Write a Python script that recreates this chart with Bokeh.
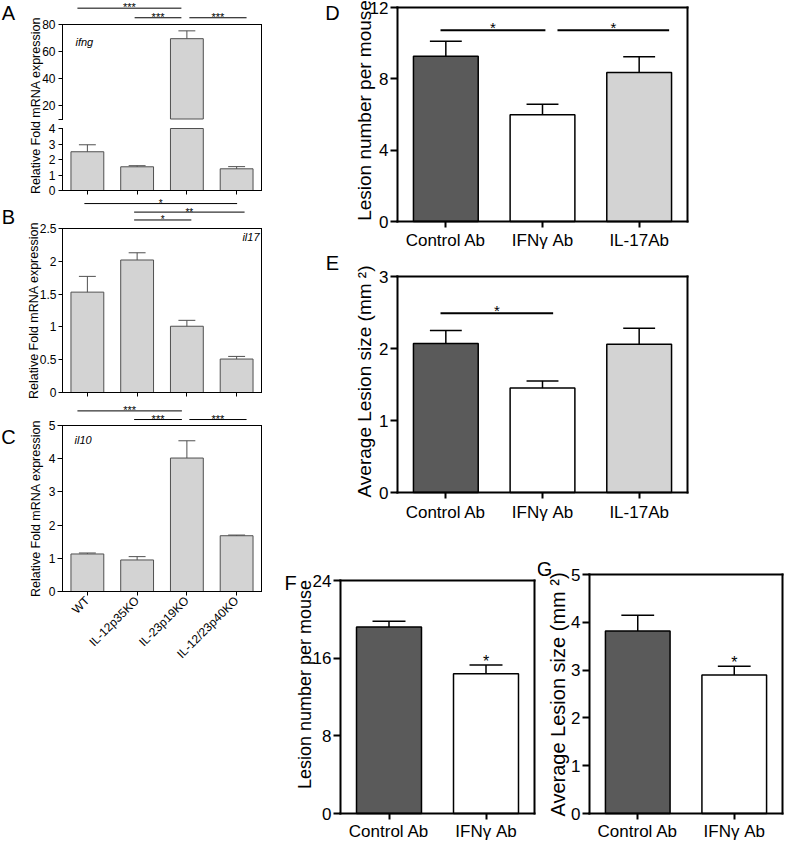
import numpy as np
from bokeh.plotting import figure
from bokeh.models import Range1d, LinearAxis, FixedTicker
from bokeh.layouts import column, row
from bokeh.embed import file_html
from bokeh.resources import INLINE
from bokeh.core.properties import value

FONT = "Liberation Sans"

# ---------------- data ----------------
genotypes = ["WT", "IL-12p35KO", "IL-23p19KO", "IL-12/23p40KO"]
ifng_mean = [2.50, 1.53, 69.5, 1.40]
ifng_sem = [0.45, 0.07, 5.8, 0.14]
il17_mean = [1.53, 2.02, 1.01, 0.51]
il17_sem = [0.24, 0.11, 0.09, 0.04]
il10_mean = [1.13, 0.95, 4.02, 1.68]
il10_sem = [0.03, 0.10, 0.52, 0.02]

treat3 = ["Control Ab", "IFNγ Ab", "IL-17Ab"]
lesion_num3 = [9.27, 5.98, 8.36]
lesion_num3_sem = [0.84, 0.60, 0.88]
lesion_size3 = [2.07, 1.45, 2.06]
lesion_size3_sem = [0.18, 0.10, 0.22]

treat2 = ["Control Ab", "IFNγ Ab"]
lesion_num2 = [19.2, 14.4]
lesion_num2_sem = [0.6, 0.9]
lesion_size2 = [3.82, 2.90]
lesion_size2_sem = [0.33, 0.18]

# significance brackets (x from, x to, height, label)
ifng_sig_x0 = [0.30, 1.45, 2.55]
ifng_sig_x1 = [2.39, 2.39, 3.70]
ifng_sig_y = [92.1, 85.0, 85.0]
ifng_sig_txt = ["***", "***", "***"]

il17_sig_x0 = [0.44, 1.44, 1.44]
il17_sig_x1 = [3.51, 3.66, 2.59]
il17_sig_y = [2.88, 2.75, 2.63]
il17_sig_txt = ["*", "**", "*"]

il10_sig_x0 = [0.30, 1.44, 2.55]
il10_sig_x1 = [2.40, 2.40, 3.70]
il10_sig_y = [5.44, 5.18, 5.18]
il10_sig_txt = ["***", "***", "***"]

num3_sig_x0 = [0.445, 1.655]
num3_sig_x1 = [1.53, 2.81]
num3_sig_y = [10.73, 10.73]
num3_sig_txt = ["*", "*"]

size3_sig_x0 = [0.445]
size3_sig_x1 = [1.61]
size3_sig_y = [2.49]
size3_sig_txt = ["*"]

YLAB_ABC = "Relative Fold mRNA expression"
YLAB_NUM = "Lesion number per mouse"
YLAB_SIZE = "Average Lesion size (mm \u00b2)"

GRAY = "#d3d3d3"
EDGE = "#505050"
BAR_COLORS = ["#5a5a5a", "#ffffff", "#d3d3d3"]


# ---------------- helpers ----------------
class Panel:
    """A figure whose frame fills the whole canvas; the boxed plot area sits inside it."""

    def __init__(self, w, h, fl, fr, fb, ppy, n):
        self.fl, self.fb = fl, fb
        self.ppx = (fr - fl) / float(n)
        self.ppy = ppy
        self.n = n
        xr = Range1d(-fl / self.ppx, n + (w - fr) / self.ppx)
        yr = Range1d(-(h - fb) / ppy, fb / ppy)
        p = figure(width=w, height=h, x_range=xr, y_range=yr,
                   x_axis_type=None, y_axis_type=None,
                   toolbar_location=None, output_backend="svg",
                   min_border=0, min_border_left=0, min_border_right=0,
                   min_border_top=0, min_border_bottom=0)
        p.outline_line_color = None
        p.background_fill_color = "white"
        p.border_fill_color = "white"
        self.p = p

    def dx(self, px):
        return (px - self.fl) / self.ppx

    def dy(self, py):
        return (self.fb - py) / self.ppy

    def text(self, px, py, t, fs, align="center", baseline="middle", angle=0.0,
             style="normal"):
        self.p.text(x=[self.dx(px)], y=[self.dy(py)], text=[t], angle=angle,
                    text_font=value(FONT), text_font_size=value(f"{fs}px"),
                    text_font_style=style, text_align=align,
                    text_baseline=baseline, text_color="black")


def add_axis(P, side, fixed, bounds, ticks, fs=12, tick_out=0, standoff=2, lw=1,
             labels=None, hide_labels=False, range_name=None, orientation=None):
    kw = {}
    if range_name is not None:
        kw["y_range_name"] = range_name
    ax = LinearAxis(fixed_location=fixed, bounds=bounds,
                    ticker=FixedTicker(ticks=[float(t) for t in ticks]), **kw)
    ax.major_label_text_font = FONT
    ax.major_label_text_font_size = f"{fs}px"
    ax.major_label_text_color = "black"
    ax.major_label_standoff = standoff
    ax.major_tick_out = tick_out
    ax.major_tick_in = 0
    ax.minor_tick_line_color = None
    ax.axis_line_width = lw
    ax.major_tick_line_width = lw
    ax.axis_line_color = "black"
    ax.major_tick_line_color = "black"
    ax.axis_line_cap = "square"
    if labels is not None:
        ax.major_label_overrides = {float(t): s for t, s in zip(ticks, labels)}
    if hide_labels:
        ax.major_label_overrides = {float(t): "" for t in ticks}
        ax.major_label_text_color = None
    if orientation is not None:
        ax.major_label_orientation = orientation
    P.p.add_layout(ax, side)
    return ax


def errbars(p, x, mean, sem, cap, color, lw, **kw):
    x = np.asarray(x, dtype=float)
    mean = np.asarray(mean, dtype=float)
    hi = mean + np.asarray(sem, dtype=float)
    p.segment(x0=x, y0=mean, x1=x, y1=hi, line_color=color, line_width=lw, **kw)
    p.segment(x0=x - cap / 2, y0=hi, x1=x + cap / 2, y1=hi,
              line_color=color, line_width=lw, **kw)


def sig(p, x0, x1, y, txt, fs, lw, yoff, **kw):
    x0 = np.asarray(x0, dtype=float)
    x1 = np.asarray(x1, dtype=float)
    p.segment(x0=x0, y0=y, x1=x1, y1=y, line_color="black", line_width=lw, **kw)
    p.text(x=(x0 + x1) / 2, y=y, text=txt, text_font=value(FONT),
           text_font_size=value(f"{fs}px"), text_align="center",
           text_baseline="middle", y_offset=yoff, text_color="black", **kw)


def box_axes(P, n, ymax, yticks, fs, tick_out, lw, xlabels=None, orientation=None,
             xfs=None, xstandoff=3):
    xc = np.arange(n) + 0.5
    if xlabels is None:
        add_axis(P, "below", 0, (0, n), xc, fs=fs, tick_out=tick_out, lw=lw, hide_labels=True)
    else:
        add_axis(P, "below", 0, (0, n), xc, fs=xfs or fs, tick_out=tick_out - 1,
                 standoff=xstandoff, lw=lw, labels=xlabels, orientation=orientation)
    add_axis(P, "left", 0, (0, ymax), yticks, fs=fs, tick_out=tick_out, standoff=2, lw=lw)
    add_axis(P, "right", n, (0, ymax), [], lw=lw)
    add_axis(P, "above", ymax, (0, n), [], lw=lw)


# ---------------- left column ----------------
LW = 282
xc4 = np.arange(4) + 0.5
BW_L = 0.66
CAP_L = 0.34
T_ABC = 12.5

# ---------- Panel A (broken axis) ----------
A_LOW_MAX, A_UP_MIN, A_UP_MAX = 4, 10, 80
A_H, A_FB, A_TOP = 197, 190, 24
A_UP_PPU = 1.35
PA = Panel(LW, A_H, 62, 261, A_FB, 15.5, 4)
pA = PA.p
pA.extra_y_ranges = {"upper": Range1d(A_UP_MAX - (A_H - A_TOP) / A_UP_PPU,
                                      A_UP_MAX + A_TOP / A_UP_PPU)}
up_at_bottom = A_UP_MAX - (A_FB - A_TOP) / A_UP_PPU
mA = np.array(ifng_mean)
sA_ = np.array(ifng_sem)
big = mA > A_UP_MIN
pA.vbar(x=xc4, top=np.minimum(mA, A_LOW_MAX), bottom=0, width=BW_L,
        fill_color=GRAY, line_color=EDGE, line_width=1)
pA.vbar(x=xc4[big], top=mA[big], bottom=A_UP_MIN, width=BW_L,
        fill_color=GRAY, line_color=EDGE, line_width=1, y_range_name="upper")
errbars(pA, xc4[~big], mA[~big], sA_[~big], CAP_L, EDGE, 1)
errbars(pA, xc4[big], mA[big], sA_[big], CAP_L, EDGE, 1, y_range_name="upper")
add_axis(PA, "below", 0, (0, 4), xc4, tick_out=4, hide_labels=True)
add_axis(PA, "left", 0, (0, A_LOW_MAX), [0, 1, 2, 3, 4], fs=12, tick_out=4, standoff=3)
add_axis(PA, "left", 0, (A_UP_MIN, A_UP_MAX), [10, 20, 40, 60, 80], fs=12, tick_out=4,
         standoff=3, labels=["", "20", "40", "60", "80"], range_name="upper")
add_axis(PA, "right", 4, (up_at_bottom, A_UP_MAX), [], range_name="upper")
add_axis(PA, "above", A_UP_MAX, (0, 4), [], range_name="upper")
sig(pA, ifng_sig_x0, ifng_sig_x1, ifng_sig_y, ifng_sig_txt, 11, 1, -1, y_range_name="upper")
PA.text(35, 105, YLAB_ABC, T_ABC, angle=np.pi / 2)
PA.text(75, 41, "ifng", 11, align="left", style="italic")
PA.text(8, 12, "A", 20)

# ---------- Panel B ----------
PB = Panel(LW, 204, 62, 261, 195, 164 / 2.5, 4)
pB = PB.p
pB.vbar(x=xc4, top=il17_mean, bottom=0, width=BW_L, fill_color=GRAY, line_color=EDGE, line_width=1)
errbars(pB, xc4, il17_mean, il17_sem, CAP_L, EDGE, 1)
box_axes(PB, 4, 2.5, [0, 0.5, 1.0, 1.5, 2.0, 2.5], 12, 4, 1)
sig(pB, il17_sig_x0, il17_sig_x1, il17_sig_y, il17_sig_txt, 10, 1, 0)
PB.text(33, 113, YLAB_ABC, T_ABC, angle=np.pi / 2)
PB.text(259, 39, "il17", 11, align="right", style="italic")
PB.text(8, 19, "B", 20)

# ---------- Panel C ----------
PC = Panel(LW, 271, 62, 261, 190, 166 / 5.0, 4)
pC = PC.p
pC.vbar(x=xc4, top=il10_mean, bottom=0, width=BW_L, fill_color=GRAY, line_color=EDGE, line_width=1)
errbars(pC, xc4, il10_mean, il10_sem, CAP_L, EDGE, 1)
box_axes(PC, 4, 5, [0, 1, 2, 3, 4, 5], 12, 5, 1, xlabels=genotypes, orientation=np.pi / 4)
sig(pC, il10_sig_x0, il10_sig_x1, il10_sig_y, il10_sig_txt, 11, 1, -1)
PC.text(35, 107, YLAB_ABC, T_ABC, angle=np.pi / 2)
PC.text(74, 38, "il10", 11, align="left", style="italic")
PC.text(8, 35, "C", 20)


# ---------------- right column ----------------
def build_treat(w, h, fl, fr, ft, fb, cats, mean, sem, ymax, yticks, cap=0.33, xstandoff=3):
    n = len(cats)
    P = Panel(w, h, fl, fr, fb, (fb - ft) / float(ymax), n)
    xc = np.arange(n) + 0.5
    P.p.vbar(x=xc, top=mean, bottom=0, width=0.67, fill_color=BAR_COLORS[:n],
             line_color="black", line_width=1.5)
    errbars(P.p, xc, mean, sem, cap, "black", 1.5)
    box_axes(P, n, ymax, yticks, 17, 7, 2, xlabels=cats, xfs=17, xstandoff=xstandoff)
    return P


RW = 502
PD = build_treat(RW, 250, 115, 405, 7, 221, treat3, lesion_num3, lesion_num3_sem, 12,
                 [0, 4, 8, 12], xstandoff=3)
sig(PD.p, num3_sig_x0, num3_sig_x1, num3_sig_y, num3_sig_txt, 15, 2, -3)
PD.text(82, 110, YLAB_NUM, 19, angle=np.pi / 2)
PD.text(50, 12, "D", 20)

PE = build_treat(RW, 272, 115, 405, 26, 242, treat3, lesion_size3, lesion_size3_sem, 3,
                 [0, 1, 2, 3], xstandoff=4)
sig(PE.p, size3_sig_x0, size3_sig_x1, size3_sig_y, size3_sig_txt, 15, 2, -3)
PE.text(82, 131, YLAB_SIZE, 19, angle=np.pi / 2)
PE.text(50, 12, "E", 20)

PF = build_treat(255, 320, 58, 252, 58, 291, treat2, lesion_num2, lesion_num2_sem, 24,
                 [0, 8, 16, 24], cap=0.34, xstandoff=2)
hiF = np.array(lesion_num2) + np.array(lesion_num2_sem)
PF.p.text(x=[1.5], y=[hiF[1]], text=["*"], text_font=value(FONT), text_font_size=value("16px"),
          text_align="center", text_baseline="middle", y_offset=-3, text_color="black")
PF.text(22, 162, YLAB_NUM, 18, angle=np.pi / 2)
PF.text(8, 60, "F", 20)

PG = build_treat(247, 320, 52, 245, 52, 291, treat2, lesion_size2, lesion_size2_sem, 5,
                 [0, 1, 2, 3, 4, 5], cap=0.34, xstandoff=2)
hiG = np.array(lesion_size2) + np.array(lesion_size2_sem)
PG.p.text(x=[1.5], y=[hiG[1]], text=["*"], text_font=value(FONT), text_font_size=value("16px"),
          text_align="center", text_baseline="middle", y_offset=-4, text_color="black")
PG.text(20, 172, YLAB_SIZE, 20, angle=np.pi / 2)
PG.text(7, 46, "G", 20)

left = column(PA.p, PB.p, PC.p, spacing=0)
right = column(PD.p, PE.p, row(PF.p, PG.p, spacing=0), spacing=0)
layout = row(left, right, spacing=0)

open("out.html", "w").write(file_html(layout, INLINE))
